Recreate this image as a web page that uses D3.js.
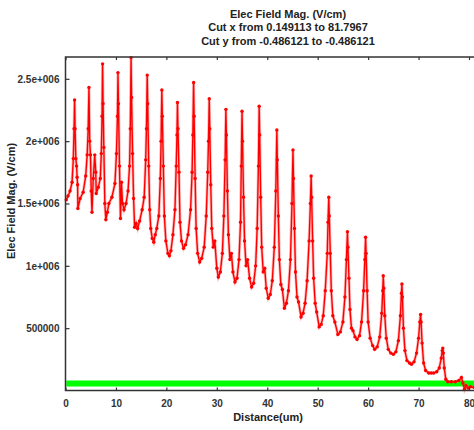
<!DOCTYPE html>
<html>
<head>
<meta charset="utf-8">
<script src="https://cdn.jsdelivr.net/npm/d3@7"></script>
<style>
  body { margin: 0; background: #fff; }
  svg { display: block; font-family: "Liberation Sans", Arial, sans-serif; }
</style>
</head>
<body>
<svg id="chart" width="474" height="430"></svg>
<script>
// Titulo del grafico
const titleLines = ['Elec Field Mag. (V/cm)', 'Cut x from 0.149113 to 81.7967', 'Cut y from -0.486121 to -0.486121'];

// Ticks de los ejes
const xTicks = [0, 10, 20, 30, 40, 50, 60, 70, 80];
const yTicks = [500000, 1000000, 1500000, 2000000, 2500000];
const yTickLabels = ['500000', '1e+006', '1.5e+006', '2e+006', '2.5e+006'];

// Serie verde (banda casi plana junto al eje)
const greenPoints = [[0.15, 56000], [81.8, 56000]];

// Serie roja: [distancia (um), campo (V/cm)]
const fieldPoints = [
  [0.15, 1.53e6], [0.5, 1.56e6], [0.9, 1.6e6], [1.3, 1.67e6], [1.55, 1.86e6], [1.7, 2.1e6], [1.8, 2.33e6],
  [1.9, 2.1e6], [2.05, 1.86e6], [2.2, 1.8e6], [2.3, 1.71e6], [2.4, 1.65e6], [2.45, 1.46e6], [2.9, 1.54e6],
  [3.5, 1.59e6], [4.0, 1.72e6], [4.3, 1.89e6], [4.5, 2.1e6], [4.65, 2.43e6],
  [4.8, 2.0e6], [4.95, 1.89e6], [5.1, 1.6e6], [5.25, 1.43e6], [5.5, 1.7e6], [5.8, 1.89e6], [6.0, 1.75e6],
  [6.1, 1.58e6], [6.5, 1.63e6], [6.9, 1.7e6], [7.1, 1.9e6], [7.25, 2.2e6], [7.35, 2.62e6],
  [7.45, 2.3e6], [7.6, 1.95e6], [7.8, 1.5e6], [8.0, 1.37e6], [8.3, 1.43e6], [8.6, 1.5e6], [9.2, 1.55e6],
  [9.8, 1.66e6], [10.1, 1.9e6], [10.3, 2.2e6], [10.4, 2.55e6],
  [10.5, 2.3e6], [10.7, 1.8e6], [10.9, 1.38e6], [11.1, 1.67e6], [11.3, 1.5e6], [11.6, 1.45e6], [12.0, 1.5e6],
  [12.4, 1.6e6], [12.7, 1.8e6], [12.85, 2.1e6], [13.0, 2.67e6],
  [13.1, 2.35e6], [13.3, 1.9e6], [13.5, 1.54e6], [13.7, 1.31e6], [14.0, 1.34e6], [14.3, 1.3e6], [14.7, 1.36e6],
  [15.2, 1.45e6], [15.6, 1.55e6], [15.9, 1.85e6], [16.05, 2.1e6], [16.2, 2.53e6],
  [16.3, 2.3e6], [16.5, 1.8e6], [16.7, 1.45e6], [16.9, 1.3e6], [17.2, 1.22e6], [17.5, 1.19e6], [17.8, 1.25e6],
  [18.1, 1.3e6], [18.5, 1.4e6], [18.8, 1.7e6], [18.95, 2.0e6], [19.1, 2.41e6],
  [19.2, 2.2e6], [19.4, 1.8e6], [19.6, 1.4e6], [19.9, 1.2e6], [20.3, 1.1e6], [20.6, 1.08e6], [20.9, 1.12e6],
  [21.3, 1.25e6], [21.7, 1.45e6], [21.95, 1.8e6], [22.1, 2.05e6], [22.2, 2.31e6],
  [22.3, 2.1e6], [22.5, 1.75e6], [22.7, 1.35e6], [23.0, 1.2e6], [23.4, 1.14e6], [23.8, 1.17e6], [24.3, 1.25e6],
  [24.8, 1.45e6], [25.1, 1.75e6], [25.25, 2.05e6], [25.4, 2.47e6],
  [25.5, 2.2e6], [25.7, 1.7e6], [25.9, 1.3e6], [26.2, 1.1e6], [26.6, 1.03e6], [27.0, 1.06e6], [27.5, 1.15e6],
  [27.9, 1.4e6], [28.2, 1.75e6], [28.35, 2.0e6], [28.5, 2.34e6],
  [28.6, 2.1e6], [28.8, 1.65e6], [29.0, 1.3e6], [29.3, 1.15e6], [29.6, 1.2e6], [30.0, 0.98e6], [30.3, 0.91e6],
  [30.7, 0.95e6], [31.1, 1.1e6], [31.4, 1.4e6], [31.65, 1.85e6], [31.8, 2.255e6],
  [31.9, 2.05e6], [32.1, 1.6e6], [32.3, 1.25e6], [32.6, 1.05e6], [32.9, 1.1e6], [33.2, 0.95e6], [33.6, 0.87e6],
  [34.0, 0.9e6], [34.4, 1.05e6], [34.7, 1.35e6], [34.85, 1.8e6], [35.0, 2.24e6],
  [35.1, 2.0e6], [35.3, 1.55e6], [35.5, 1.2e6], [35.8, 1.0e6], [36.1, 1.05e6], [36.5, 0.9e6], [36.9, 0.83e6],
  [37.3, 0.86e6], [37.7, 1.0e6], [38.0, 1.3e6], [38.25, 1.8e6], [38.4, 2.28e6],
  [38.5, 2.05e6], [38.7, 1.55e6], [38.9, 1.15e6], [39.2, 0.95e6], [39.5, 0.98e6], [39.8, 0.82e6], [40.2, 0.74e6],
  [40.6, 0.77e6], [41.0, 0.88e6], [41.4, 1.15e6], [41.7, 1.6e6], [41.9, 2.09e6],
  [42.0, 1.85e6], [42.2, 1.4e6], [42.4, 1.05e6], [42.7, 0.85e6], [43.0, 0.81e6], [43.4, 0.66e6], [43.8, 0.7e6],
  [44.2, 0.8e6], [44.6, 1.05e6], [44.9, 1.5e6], [45.1, 1.93e6],
  [45.2, 1.7e6], [45.4, 1.3e6], [45.6, 0.95e6], [45.9, 0.75e6], [46.2, 0.71e6], [46.7, 0.59e6], [47.1, 0.62e6],
  [47.5, 0.7e6], [47.9, 0.88e6], [48.3, 1.2e6], [48.55, 1.5e6], [48.7, 1.72e6],
  [48.8, 1.55e6], [49.0, 1.2e6], [49.2, 0.9e6], [49.5, 0.7e6], [49.8, 0.63e6], [50.3, 0.51e6], [50.7, 0.53e6],
  [51.1, 0.6e6], [51.5, 0.8e6], [51.9, 1.1e6], [52.05, 1.35e6], [52.2, 1.55e6],
  [52.3, 1.4e6], [52.5, 1.1e6], [52.7, 0.8e6], [53.0, 0.6e6], [53.4, 0.55e6], [54.0, 0.45e6], [54.5, 0.47e6],
  [55.0, 0.55e6], [55.4, 0.75e6], [55.7, 1.05e6], [55.9, 1.274e6],
  [56.0, 1.15e6], [56.2, 0.9e6], [56.4, 0.65e6], [56.7, 0.5e6], [57.0, 0.48e6], [57.4, 0.43e6], [57.8, 0.41e6],
  [58.3, 0.44e6], [58.7, 0.55e6], [59.1, 0.8e6], [59.35, 1.05e6], [59.5, 1.23e6],
  [59.6, 1.1e6], [59.8, 0.8e6], [60.0, 0.55e6], [60.4, 0.42e6], [60.9, 0.36e6], [61.3, 0.33e6], [61.8, 0.35e6],
  [62.3, 0.43e6], [62.7, 0.62e6], [62.9, 0.8e6], [63.0, 0.92e6],
  [63.1, 0.82e6], [63.3, 0.6e6], [63.6, 0.42e6], [64.0, 0.33e6], [64.5, 0.3e6], [65.0, 0.29e6], [65.5, 0.31e6],
  [66.0, 0.4e6], [66.4, 0.6e6], [66.6, 0.78e6], [66.7, 0.855e6],
  [66.8, 0.75e6], [67.0, 0.5e6], [67.3, 0.32e6], [67.7, 0.24e6], [68.2, 0.22e6], [68.6, 0.21e6], [69.1, 0.23e6],
  [69.6, 0.3e6], [70.0, 0.42e6], [70.25, 0.55e6], [70.4, 0.61e6],
  [70.5, 0.55e6], [70.7, 0.38e6], [71.0, 0.22e6], [71.4, 0.16e6], [72.0, 0.14e6], [72.5, 0.14e6], [73.0, 0.14e6],
  [73.6, 0.15e6], [74.1, 0.18e6], [74.5, 0.26e6], [74.7, 0.32e6], [74.8, 0.34e6],
  [74.9, 0.3e6], [75.1, 0.18e6], [75.4, 0.09e6], [75.8, 0.07e6], [76.5, 0.07e6], [77.3, 0.07e6], [78.0, 0.08e6],
  [78.5, 0.104e6], [78.8, 0.06e6], [79.1, 0.01e6], [79.4, 0.04e6], [79.8, 0.02e6], [80.3, 0.03e6],
  [81.0, 0.025e6], [81.8, 0.03e6]
];

const svg = d3.select('#chart');
const plot = { left: 65.5, top: 57, bottom: 390.5 };
plot.right = plot.left + 81.8 * (469 - plot.left) / 80;

const x = d3.scaleLinear().domain([0, 81.8]).range([plot.left, plot.right]);
const y = d3.scaleLinear().domain([0, 2.675e6]).range([plot.bottom, plot.top]);

// Titulo
svg.append('g')
  .selectAll('text')
  .data(titleLines)
  .enter()
  .append('text')
  .attr('x', 288)
  .attr('y', (d, i) => 18 + i * 13.3)
  .attr('text-anchor', 'middle')
  .attr('font-size', 11)
  .attr('font-weight', 'bold')
  .attr('fill', '#222')
  .text(d => d);

// Series
const line = d3.line().x(d => x(d[0])).y(d => y(d[1]));

svg.append('path')
  .datum(greenPoints)
  .attr('d', line)
  .attr('fill', 'none')
  .attr('stroke', '#00ff00')
  .attr('stroke-width', 6);

svg.append('path')   // halo claro de la linea roja
  .datum(fieldPoints)
  .attr('d', line)
  .attr('fill', 'none')
  .attr('stroke', '#ff5050')
  .attr('stroke-opacity', 0.4)
  .attr('stroke-width', 3);

svg.append('path')
  .datum(fieldPoints)
  .attr('d', line)
  .attr('fill', 'none')
  .attr('stroke', '#ff0000')
  .attr('stroke-width', 1.4);

svg.append('g')
  .selectAll('circle')
  .data(fieldPoints)
  .enter()
  .append('circle')
  .attr('cx', d => x(d[0]))
  .attr('cy', d => y(d[1]))
  .attr('r', 1.7)
  .attr('fill', '#ff0000');

// Ejes con ticks hacia dentro
const axisColor = '#333';
const tickStyle = g => {
  g.select('.domain').remove();
  g.selectAll('.tick line').attr('stroke', axisColor).attr('stroke-width', 1.2);
  g.selectAll('.tick text').attr('fill', '#333').attr('font-size', 10)
    .attr('font-family', '"Liberation Sans", Arial, sans-serif').attr('font-weight', 'bold');
};

svg.append('g')
  .attr('transform', `translate(0,${plot.bottom})`)
  .call(d3.axisBottom(x).tickValues(xTicks).tickSizeInner(-3).tickSizeOuter(0).tickPadding(9))
  .call(tickStyle);

svg.append('g')
  .attr('transform', `translate(0,${plot.top})`)
  .call(d3.axisTop(x).tickValues(xTicks).tickSizeInner(-3).tickSizeOuter(0).tickFormat(''))
  .call(tickStyle);

svg.append('g')
  .attr('transform', `translate(${plot.left},0)`)
  .call(d3.axisLeft(y).tickValues(yTicks).tickSizeInner(-4).tickSizeOuter(0).tickPadding(6)
    .tickFormat((d, i) => yTickLabels[i]))
  .call(tickStyle);

svg.append('g')
  .attr('transform', `translate(${plot.right},0)`)
  .call(d3.axisRight(y).tickValues(yTicks).tickSizeInner(-4).tickSizeOuter(0).tickFormat(''))
  .call(tickStyle);

// Marco del area de dibujo
svg.append('rect')
  .attr('x', plot.left)
  .attr('y', plot.top)
  .attr('width', plot.right - plot.left)
  .attr('height', plot.bottom - plot.top)
  .attr('fill', 'none')
  .attr('stroke', axisColor)
  .attr('stroke-width', 1.5);

// Etiquetas de los ejes
svg.append('text')
  .attr('x', 268)
  .attr('y', 421)
  .attr('text-anchor', 'middle')
  .attr('font-size', 11)
  .attr('font-weight', 'bold')
  .attr('fill', '#222')
  .text('Distance(um)');

svg.append('text')
  .attr('transform', 'translate(15,201) rotate(-90)')
  .attr('text-anchor', 'middle')
  .attr('font-size', 11)
  .attr('font-weight', 'bold')
  .attr('fill', '#222')
  .text('Elec Field Mag. (V/cm)');
</script>
</body>
</html>
